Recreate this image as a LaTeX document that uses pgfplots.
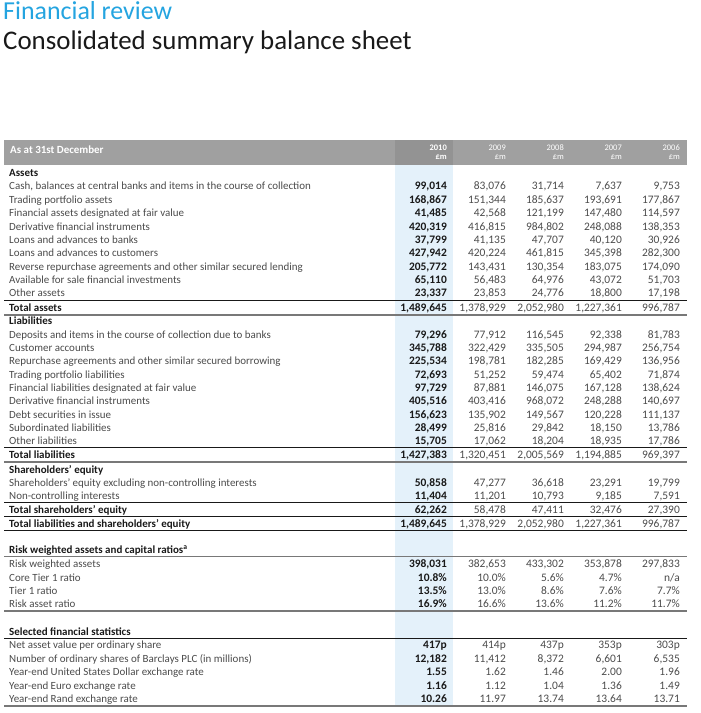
\documentclass[border=0pt]{standalone}
\usepackage{fontspec}
\setmainfont{Carlito}
\usepackage{pgfplots}
\usepackage{pgfplotstable}
\pgfplotsset{compat=1.18}
\definecolor{titleblue}{RGB}{36,164,224}
\definecolor{headgray}{RGB}{160,160,160}
\definecolor{colblue}{RGB}{228,241,250}
\definecolor{txtgray}{RGB}{75,75,75}
\definecolor{txtdark}{RGB}{25,25,25}
\definecolor{rulegray}{RGB}{120,120,120}

\pgfplotstableread{
y lab
176.7 Assets
311.2 {Total assets}
324.7 Liabilities
458.7 {Total liabilities}
473 {Shareholders' equity}
513.7 {Total shareholders' equity}
527 {Total liabilities and shareholders' equity}
553.7 {Risk weighted assets and capital ratios\textsuperscript{a}}
635.4 {Selected financial statistics}
}\headtab

\pgfplotstableread{
y lab
190 {Cash, balances at central banks and items in the course of collection}
203.4 {Trading portfolio assets}
216.7 {Financial assets designated at fair value}
230 {Derivative financial instruments}
243.4 {Loans and advances to banks}
256.7 {Loans and advances to customers}
270 {Reverse repurchase agreements and other similar secured lending}
283.4 {Available for sale financial investments}
296.7 {Other assets}
338 {Deposits and items in the course of collection due to banks}
351.4 {Customer accounts}
364.7 {Repurchase agreements and other similar secured borrowing}
378 {Trading portfolio liabilities}
391.4 {Financial liabilities designated at fair value}
404.7 {Derivative financial instruments}
418 {Debt securities in issue}
431.4 {Subordinated liabilities}
444.7 {Other liabilities}
486.4 {Shareholders' equity excluding non-controlling interests}
499.7 {Non-controlling interests}
567.4 {Risk weighted assets}
581 {Core Tier 1 ratio}
594.4 {Tier 1 ratio}
607.7 {Risk asset ratio}
648.7 {Net asset value per ordinary share}
662 {Number of ordinary shares of Barclays PLC (in millions)}
675.4 {Year-end United States Dollar exchange rate}
689 {Year-end Euro exchange rate}
702.3 {Year-end Rand exchange rate}
}\itemtab

\pgfplotstableread{
y a b c d e
190 99,014 83,076 31,714 7,637 9,753
203.4 168,867 151,344 185,637 193,691 177,867
216.7 41,485 42,568 121,199 147,480 114,597
230 420,319 416,815 984,802 248,088 138,353
243.4 37,799 41,135 47,707 40,120 30,926
256.7 427,942 420,224 461,815 345,398 282,300
270 205,772 143,431 130,354 183,075 174,090
283.4 65,110 56,483 64,976 43,072 51,703
296.7 23,337 23,853 24,776 18,800 17,198
311.2 1,489,645 1,378,929 2,052,980 1,227,361 996,787
338 79,296 77,912 116,545 92,338 81,783
351.4 345,788 322,429 335,505 294,987 256,754
364.7 225,534 198,781 182,285 169,429 136,956
378 72,693 51,252 59,474 65,402 71,874
391.4 97,729 87,881 146,075 167,128 138,624
404.7 405,516 403,416 968,072 248,288 140,697
418 156,623 135,902 149,567 120,228 111,137
431.4 28,499 25,816 29,842 18,150 13,786
444.7 15,705 17,062 18,204 18,935 17,786
458.7 1,427,383 1,320,451 2,005,569 1,194,885 969,397
486.4 50,858 47,277 36,618 23,291 19,799
499.7 11,404 11,201 10,793 9,185 7,591
513.7 62,262 58,478 47,411 32,476 27,390
527 1,489,645 1,378,929 2,052,980 1,227,361 996,787
567.4 398,031 382,653 433,302 353,878 297,833
581 10.8\% 10.0\% 5.6\% 4.7\% n/a
594.4 13.5\% 13.0\% 8.6\% 7.6\% 7.7\%
607.7 16.9\% 16.6\% 13.6\% 11.2\% 11.7\%
648.7 417p 414p 437p 353p 303p
662 12,182 11,412 8,372 6,601 6,535
675.4 1.55 1.62 1.46 2.00 1.96
689 1.16 1.12 1.04 1.36 1.49
702.3 10.26 11.97 13.74 13.64 13.71
}\numtab

\pgfplotstableread{
x y lab
506 151 2009
564 151 2008
622 151 2007
680 151 2006
506 160 £m
564 160 £m
622 160 £m
680 160 £m
}\yeartab

\pgfplotstableread{
x y lab
447 151 2010
447 160 £m
}\yeartabA

\begin{document}
\begin{tikzpicture}
\begin{axis}[
  width=701bp, height=713bp, scale only axis,
  xmin=0, xmax=701, ymin=0, ymax=713, y dir=reverse,
  hide axis, clip=false,
  tabtext/.style={draw=none, mark=none, nodes near coords, point meta=explicit symbolic},
]
\path (axis cs:0,0) rectangle (axis cs:701,713);
% titles
\node[anchor=base west, inner sep=0pt, font=\fontsize{26}{28}\selectfont, text=titleblue] at (axis cs:3,20) {Financial review};
\node[anchor=base west, inner sep=0pt, font=\fontsize{27}{29}\selectfont, text=txtdark] at (axis cs:3,49.5) {Consolidated summary balance sheet};
% header bar and highlighted column
\fill[headgray] (axis cs:4,140) rectangle (axis cs:687,165);
\fill[headgray!92!black] (axis cs:395,140) rectangle (axis cs:453,165);
\fill[colblue] (axis cs:395,165) rectangle (axis cs:453,706);
\node[anchor=base west, inner sep=0pt, font=\fontsize{11}{13}\selectfont\bfseries, text=white] at (axis cs:10,154) {As at 31st December};
% rules
\foreach \yy/\ww/\cc in {300/0.8/txtdark, 315/1.8/rulegray, 447/0.8/txtdark, 461.7/1.8/rulegray, 502.7/0.8/txtdark, 516.7/1.2/txtdark, 530/0.9/txtdark, 556.7/1.5/rulegray, 611/1.8/rulegray, 638.3/0.9/txtdark, 706/1.8/rulegray}{
  \edef\temp{\noexpand\draw[line width=\ww bp, color=\cc] (axis cs:4,\yy) -- (axis cs:687,\yy);}
  \temp
}
% year header
\addplot[tabtext, every node near coord/.style={anchor=base east, inner sep=0pt, font=\fontsize{8.5}{10}\selectfont, text=white}]
  table[x=x, y=y, meta=lab] {\yeartab};
\addplot[tabtext, every node near coord/.style={anchor=base east, inner sep=0pt, font=\fontsize{8.5}{10}\selectfont\bfseries, text=white}]
  table[x=x, y=y, meta=lab] {\yeartabA};
% row labels
\addplot[tabtext, every node near coord/.style={anchor=base west, inner sep=0pt, font=\fontsize{11}{13}\selectfont\bfseries, text=txtdark}]
  table[x expr=9, y=y, meta=lab] {\headtab};
\addplot[tabtext, every node near coord/.style={anchor=base west, inner sep=0pt, font=\fontsize{11}{13}\selectfont, text=txtgray}]
  table[x expr=9, y=y, meta=lab] {\itemtab};
% numbers
\addplot[tabtext, every node near coord/.style={anchor=base east, inner sep=0pt, font=\fontsize{11.5}{13}\selectfont\bfseries, text=txtdark}]
  table[x expr=447, y=y, meta=a] {\numtab};
\addplot[tabtext, every node near coord/.style={anchor=base east, inner sep=0pt, font=\fontsize{11.5}{13}\selectfont, text=txtgray}]
  table[x expr=506, y=y, meta=b] {\numtab};
\addplot[tabtext, every node near coord/.style={anchor=base east, inner sep=0pt, font=\fontsize{11.5}{13}\selectfont, text=txtgray}]
  table[x expr=564, y=y, meta=c] {\numtab};
\addplot[tabtext, every node near coord/.style={anchor=base east, inner sep=0pt, font=\fontsize{11.5}{13}\selectfont, text=txtgray}]
  table[x expr=622, y=y, meta=d] {\numtab};
\addplot[tabtext, every node near coord/.style={anchor=base east, inner sep=0pt, font=\fontsize{11.5}{13}\selectfont, text=txtgray}]
  table[x expr=680, y=y, meta=e] {\numtab};
\end{axis}
\end{tikzpicture}
\end{document}
